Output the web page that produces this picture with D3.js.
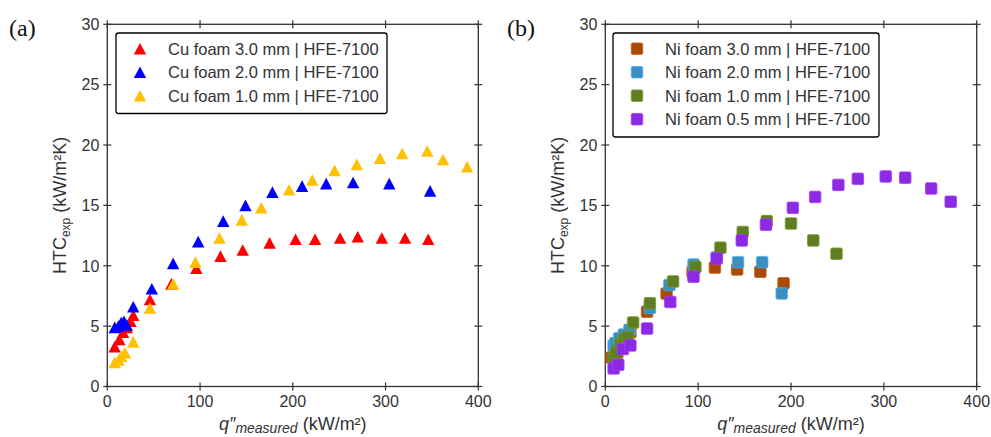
<!DOCTYPE html>
<html>
<head>
<meta charset="utf-8">
<script src="https://cdn.jsdelivr.net/npm/d3@7"></script>
<style>
  body { margin: 0; background: #fff; }
  text { font-family: "Liberation Sans", Arial, sans-serif; fill: #333; }
</style>
</head>
<body>
<div class="chart"></div>
<script>
var svgWidth = 991;
var svgHeight = 437;

// ---- data ----
// panel (a): Cu foam, triangles
var cu30X = [8, 13, 17, 21, 25, 28, 46, 69, 96, 122, 146, 175, 203, 224, 251, 270, 296, 321, 346];
var cu30Y = [3.3, 3.9, 4.5, 4.9, 5.4, 5.9, 7.2, 8.5, 9.8, 10.8, 11.3, 11.9, 12.2, 12.2, 12.3, 12.4, 12.3, 12.3, 12.2];
var cu20X = [8, 12, 15, 18, 21, 28, 48, 71, 98, 125, 149, 178, 210, 236, 265, 304, 348];
var cu20Y = [4.9, 5.0, 5.3, 5.4, 5.1, 6.6, 8.1, 10.2, 12.0, 13.7, 15.0, 16.1, 16.6, 16.8, 16.9, 16.8, 16.2];
var cu10X = [8, 12, 15, 19, 28, 46, 71, 95, 121, 145, 166, 196, 221, 245, 269, 294, 318, 345, 362, 388];
var cu10Y = [2.0, 2.2, 2.5, 2.8, 3.7, 6.5, 8.5, 10.3, 12.3, 13.8, 14.8, 16.3, 17.1, 17.9, 18.4, 18.9, 19.3, 19.5, 18.8, 18.2];

// panel (b): Ni foam, squares
var ni30X = [7, 10, 13, 20, 27, 45, 66, 94, 118, 142, 167, 192];
var ni30Y = [2.4, 2.5, 2.8, 3.6, 4.5, 6.2, 7.7, 9.5, 9.85, 9.7, 9.5, 8.55];
var ni20X = [9, 11, 15, 20, 26, 48, 69, 95, 120, 143, 169, 190];
var ni20Y = [3.4, 3.6, 4.0, 4.3, 4.7, 6.5, 8.4, 10.1, 10.7, 10.3, 10.3, 7.7];
var ni10X = [9, 12, 16, 20, 24, 30, 48, 73, 97, 124, 148, 174, 200, 224, 249];
var ni10Y = [2.3, 2.8, 3.5, 3.9, 4.1, 5.3, 6.9, 8.7, 9.9, 11.5, 12.8, 13.7, 13.5, 12.1, 11.0];
var ni05X = [9, 14, 19, 27, 45, 70, 95, 120, 147, 173, 202, 226, 251, 272, 302, 323, 351, 372];
var ni05Y = [1.5, 1.8, 3.1, 3.4, 4.8, 7.0, 9.1, 10.6, 12.1, 13.4, 14.8, 15.7, 16.7, 17.2, 17.4, 17.3, 16.4, 15.3];

var xTicks = [0, 100, 200, 300, 400];
var yTicks = [0, 5, 10, 15, 20, 25, 30];

var cuNames = ["Cu foam 3.0 mm | HFE-7100", "Cu foam 2.0 mm | HFE-7100", "Cu foam 1.0 mm | HFE-7100"];
var niNames = ["Ni foam 3.0 mm | HFE-7100", "Ni foam 2.0 mm | HFE-7100", "Ni foam 1.0 mm | HFE-7100", "Ni foam 0.5 mm | HFE-7100"];

var cuColors = ["#ff0000", "#0000ff", "#ffc000"];
var niColors = ["#a64b08", "#3b8ec2", "#5f7e22", "#8a2be2"];

function zip(xs, ys) {
  return xs.map((x, i) => ({ x: x, y: ys[i] }));
}

var cuSeries = [zip(cu30X, cu30Y), zip(cu20X, cu20Y), zip(cu10X, cu10Y)];
var niSeries = [zip(ni30X, ni30Y), zip(ni20X, ni20Y), zip(ni10X, ni10Y), zip(ni05X, ni05Y)];

var svg = d3.select(".chart")
  .append("svg")
  .attr("width", svgWidth)
  .attr("height", svgHeight);

// marker drawing: triangle centred on its box, rounded square
function drawMarker(g, shape, color, cx, cy) {
  if (shape === "tri") {
    var w = 6.2, h = 5.8;
    g.append("path")
      .attr("d", `M${cx},${cy - h}L${cx + w},${cy + h}L${cx - w},${cy + h}Z`)
      .attr("fill", color);
  } else {
    var s = 11.5;
    g.append("rect")
      .attr("x", cx - s / 2)
      .attr("y", cy - s / 2)
      .attr("width", s)
      .attr("height", s)
      .attr("rx", 1.5)
      .attr("fill", color)
      .attr("stroke", d3.color(color).brighter(0.6))
      .attr("stroke-width", 0.8);
  }
}

function drawPanel(opts) {
  var x = d3.scaleLinear().domain([0, 400]).range([opts.left, opts.right]);
  var y = d3.scaleLinear().domain([0, 30]).range([386.5, 24.3]);
  var g = svg.append("g");

  // frame with ticks on all sides (ticks cross the line)
  var axisColor = "#333";
  g.append("rect")
    .attr("x", x(0)).attr("y", y(30))
    .attr("width", x(400) - x(0)).attr("height", y(0) - y(30))
    .attr("fill", "none").attr("stroke", axisColor).attr("stroke-width", 1.3);

  xTicks.forEach(function(t) {
    [y(0), y(30)].forEach(function(yy) {
      g.append("line")
        .attr("x1", x(t)).attr("x2", x(t))
        .attr("y1", yy - 4).attr("y2", yy + 4)
        .attr("stroke", axisColor).attr("stroke-width", 1.2);
    });
    g.append("text")
      .attr("x", x(t)).attr("y", 406.5)
      .attr("text-anchor", "middle")
      .attr("font-size", "16px")
      .text(t);
  });

  yTicks.forEach(function(t) {
    [x(0), x(400)].forEach(function(xx) {
      g.append("line")
        .attr("x1", xx - 4).attr("x2", xx + 4)
        .attr("y1", y(t)).attr("y2", y(t))
        .attr("stroke", axisColor).attr("stroke-width", 1.2);
    });
    g.append("text")
      .attr("x", x(0) - 8).attr("y", y(t))
      .attr("dy", "0.36em")
      .attr("text-anchor", "end")
      .attr("font-size", "16px")
      .text(t);
  });

  // points
  opts.series.forEach(function(s, i) {
    s.forEach(function(d) {
      drawMarker(g, opts.shape, opts.colors[i], x(d.x), y(d.y));
    });
  });

  // legend
  var lg = g.append("g");
  lg.append("rect")
    .attr("x", opts.legX).attr("y", 33)
    .attr("width", opts.legW).attr("height", opts.names.length * 23.5 + 10)
    .attr("rx", 2.5)
    .attr("fill", "#fff").attr("stroke", "#000").attr("stroke-width", 1.3);
  opts.names.forEach(function(name, i) {
    var cy = 48.7 + i * 23.5;
    drawMarker(lg, opts.shape, opts.colors[i], opts.legX + 24, cy);
    lg.append("text")
      .attr("x", opts.legX + 52).attr("y", cy)
      .attr("dy", "0.36em")
      .attr("font-size", "16.5px")
      .text(name);
  });

  // axis titles
  var cxMid = (x(0) + x(400)) / 2;
  var xl = g.append("text")
    .attr("x", cxMid).attr("y", 430)
    .attr("text-anchor", "middle")
    .attr("font-size", "18px");
  xl.append("tspan").attr("font-style", "italic").text("q\u2033");
  xl.append("tspan").attr("font-style", "italic").attr("font-size", "14px").attr("dy", 3).text("measured");
  xl.append("tspan").attr("dy", -3).text(" (kW/m\u00b2)");

  var yl = g.append("text")
    .attr("transform", `translate(${opts.yLabX}, ${(y(0) + y(30)) / 2}) rotate(-90)`)
    .attr("text-anchor", "middle")
    .attr("font-size", "18px");
  yl.append("tspan").text("HTC");
  yl.append("tspan").attr("font-size", "12px").attr("dy", 4).text("exp");
  yl.append("tspan").attr("dy", -4).text(" (kW/m\u00b2K)");

  // panel letter
  g.append("text")
    .attr("x", opts.tagX).attr("y", 36)
    .attr("font-family", "'Liberation Serif', 'Times New Roman', serif")
    .attr("font-size", "24px")
    .style("font-family", "'Liberation Serif', 'Times New Roman', serif")
    .style("fill", "#111")
    .text(opts.tag);
}

drawPanel({
  left: 107.3, right: 478.3,
  series: cuSeries, colors: cuColors, names: cuNames, shape: "tri",
  legX: 116, legW: 271, yLabX: 66, tagX: 9, tag: "(a)"
});

drawPanel({
  left: 605.3, right: 976.7,
  series: niSeries, colors: niColors, names: niNames, shape: "sq",
  legX: 613, legW: 266, yLabX: 564, tagX: 507, tag: "(b)"
});
</script>
</body>
</html>
